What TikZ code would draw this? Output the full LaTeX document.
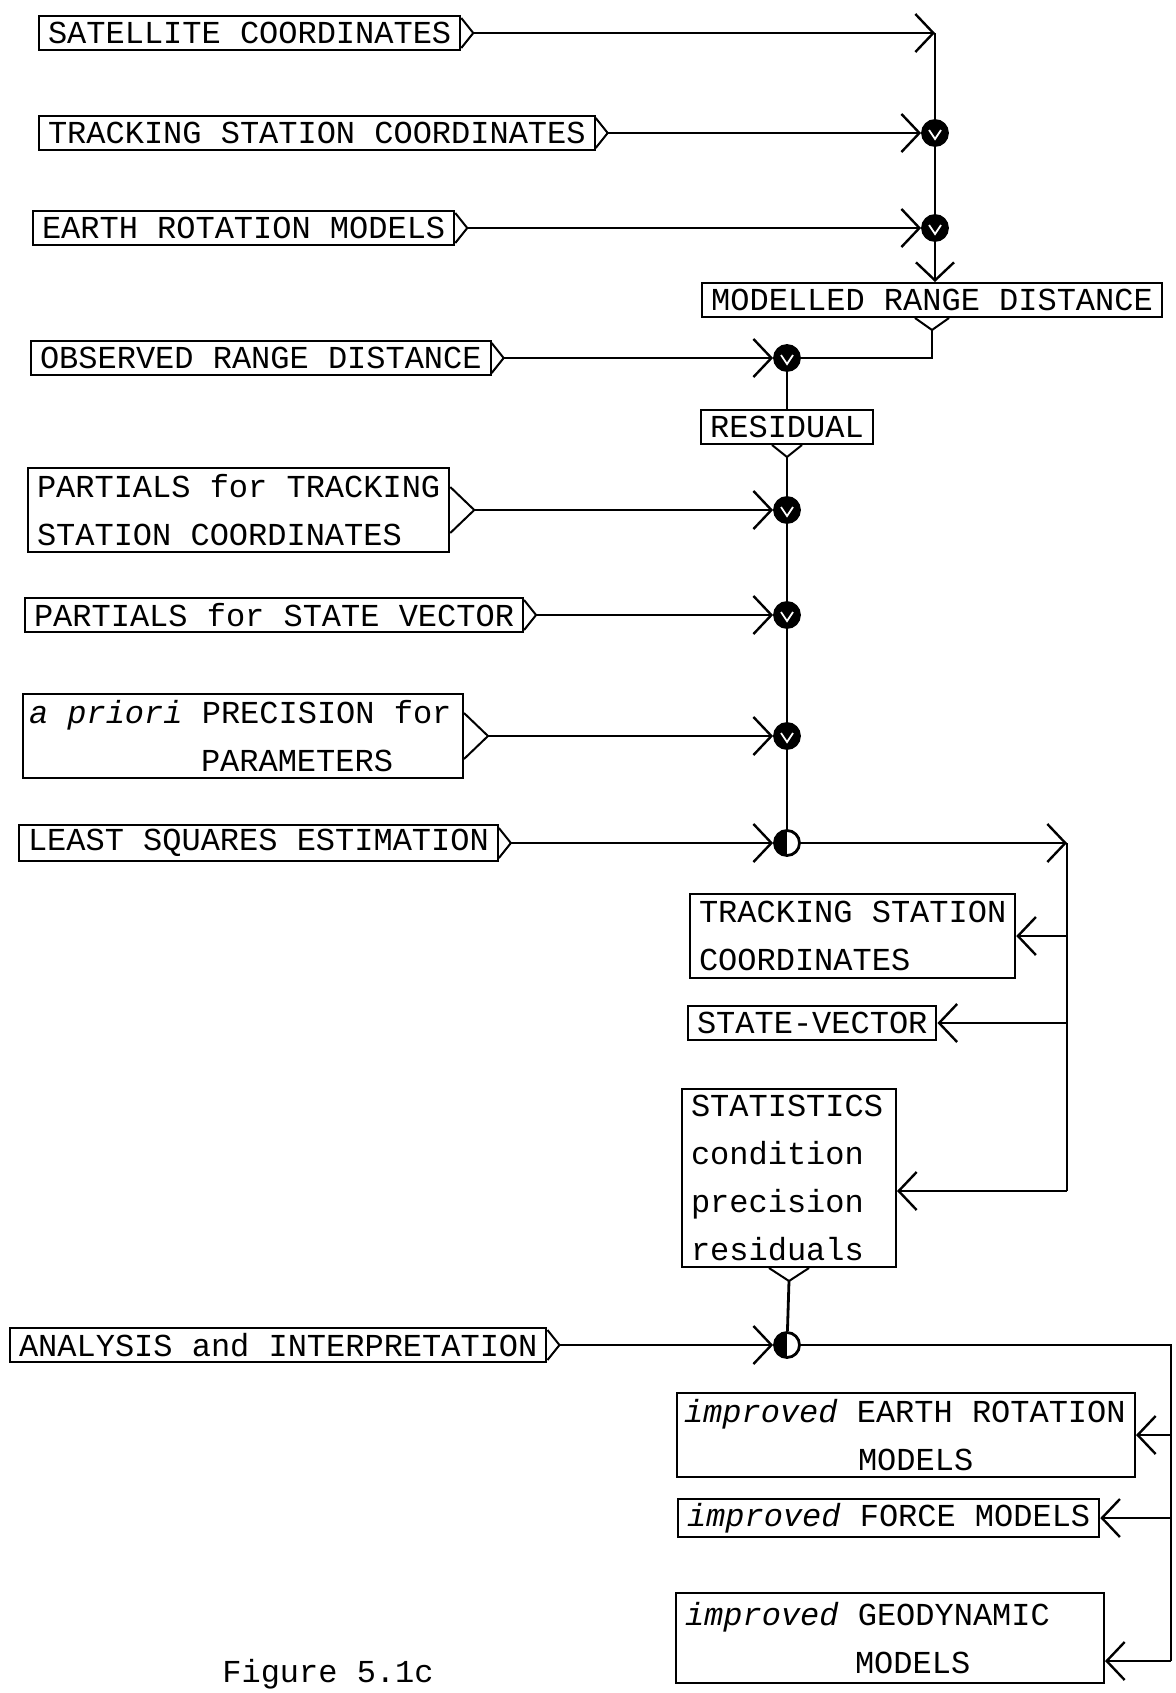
\documentclass[tikz,border=0pt]{standalone}
\usepackage{fontspec}
\setmainfont{Liberation Mono}
\usetikzlibrary{arrows.meta}

% output wedge on the right side / below a box
\newcommand{\outR}[3]{\draw[tri] ([yshift=#2]#1.east) -- ([xshift=#3]#1.east) coordinate (#1-o) -- ([yshift=-#2]#1.east);}
\newcommand{\outD}[3]{\draw[tri] ([xshift=-#2]#1.south) -- ([yshift=-#3]#1.south) coordinate (#1-o) -- ([xshift=#2]#1.south);}

\begin{document}
\begin{tikzpicture}[
  x=0.5pt, y=-0.5pt,
  font=\fontsize{16}{24}\selectfont,
  bx/.style={draw, line width=1pt, align=left, inner xsep=4.5pt, inner ysep=2pt,
             minimum height=17pt, anchor=west,
             execute at begin node={\spaceskip=0.6em\relax}},
  bxx/.style={bx, minimum height=42pt},
  tri/.style={line width=1pt},
  ln/.style={line width=1.4pt},
  arr/.style={ln, -{Straight Barb[length=9pt, width=19pt, line width=1.2pt]}},
  jn/.style={circle, draw, line width=1.4pt, fill=black, minimum size=12.5pt, inner sep=0pt},
  jh/.style={circle, draw, line width=1.4pt, minimum size=12.5pt, inner sep=0pt,
             path picture={\fill (path picture bounding box.north) rectangle (path picture bounding box.south west);}},
]
\useasboundingbox (0,0) rectangle (1175,1693);
% ---- input boxes (left column) ----
\node[bx]  (sat) at (38,33)   {SATELLITE COORDINATES};
\node[bx]  (tsc) at (38,133)  {TRACKING STATION COORDINATES};
\node[bx]  (erm) at (32,228)  {EARTH ROTATION MODELS};
\node[bx]  (ord) at (30,358)  {OBSERVED RANGE DISTANCE};
\node[bxx] (ptc) at (27,510)  {PARTIALS for TRACKING\\STATION COORDINATES};
\node[bx]  (psv) at (24,615)  {PARTIALS for STATE VECTOR};
\node[bxx, text width=214pt, inner xsep=3pt] (apr) at (22,736)
  {\textit{a priori} PRECISION for\\\hspace*{86pt}PARAMETERS};
\node[bx]  (lsq) at (18,843)  {LEAST SQUARES ESTIMATION};
\node[bx]  (ana) at (9,1345)  {ANALYSIS and INTERPRETATION};
% ---- intermediate boxes ----
\node[bx, anchor=center] (mrd) at (932,300) {MODELLED RANGE DISTANCE};
\node[bx, anchor=center] (res) at (787,427) {RESIDUAL};
% ---- output boxes (right column) ----
\node[bxx] (tsc2) at (689,936) {TRACKING STATION\\COORDINATES};
\node[bx]  (sv) at (687,1023)  {STATE-VECTOR};
\node[bx, anchor=center, text width=98pt, minimum height=89pt] (stat) at (789,1178)
  {STATISTICS\\condition\\precision\\residuals};
\node[bxx, text width=222pt, inner xsep=3.5pt] (ier) at (676,1435)
  {\textit{improved} EARTH ROTATION\\\hspace*{87pt}MODELS};
\node[bx]  (ifm) at (677,1518) {\textit{improved} FORCE MODELS};
\node[bxx, text width=205pt, minimum height=45pt] (igm) at (675,1638)
  {\textit{improved} GEODYNAMIC\\\hspace*{85pt}MODELS};
\node (cap) at (328,1674) {Figure 5.1c};
% ---- output wedges ----
\outR{sat}{7.5pt}{6pt}
\outR{tsc}{7.5pt}{6pt}
\outR{erm}{7.5pt}{6pt}
\outR{ord}{7.5pt}{6pt}
\outR{ptc}{11.5pt}{12pt}
\outR{psv}{7.5pt}{6pt}
\outR{apr}{11.5pt}{12pt}
\outR{lsq}{7.5pt}{6pt}
\outR{ana}{7.5pt}{6pt}
\outD{mrd}{8.5pt}{6pt}
\outD{res}{7.5pt}{6pt}
\outD{stat}{10pt}{6.5pt}
% ---- junctions ----
\node[jn] (j1) at (935,133) {};
\node[jn] (j2) at (935,228) {};
\node[jn] (j3) at (787,358) {};
\node[jn] (j4) at (787,510) {};
\node[jn] (j5) at (787,615) {};
\node[jn] (j6) at (787,736) {};
\node[jh] (j7) at (787,843) {};
\node[jh] (j8) at (787,1345) {};
\foreach \j in {j1,j2,j3,j4,j5,j6}
  \draw[white, line width=0.9pt] ([shift={(-3pt,1.5pt)}]\j.center) -- ([yshift=-3pt]\j.center) -- ([shift={(3pt,1.5pt)}]\j.center);
\coordinate (c1) at (935,33);
\coordinate (c2) at (1067,843);
\coordinate (c3) at (1067,1191);
\coordinate (c4) at (1171,1345);
\coordinate (c5) at (1171,1661);
% ---- modelled range distance ----
\draw[arr] (sat-o) -- (c1);
\draw[ln] (c1) -- (j1);
\draw[arr] (tsc-o) -- (j1);
\draw[ln] (j1) -- (j2);
\draw[arr] (erm-o) -- (j2);
\draw[arr] (j2) -- (j2 |- mrd.north);
% ---- residual and normal equations ----
\draw[ln] (mrd-o) |- (j3);
\draw[arr] (ord-o) -- (j3);
\draw[ln] (j3) -- (res);
\draw[ln] (res-o) -- (j4);
\draw[arr] (ptc-o) -- (j4);
\draw[ln] (j4) -- (j5);
\draw[arr] (psv-o) -- (j5);
\draw[ln] (j5) -- (j6);
\draw[arr] (apr-o) -- (j6);
\draw[ln] (j6) -- (j7);
\draw[arr] (lsq-o) -- (j7);
% ---- estimation results ----
\draw[arr] (j7) -- (c2);
\draw[ln] (c2) -- (c3);
\draw[arr] (c2 |- tsc2) -- (tsc2);
\draw[arr] (c2 |- sv) -- (sv);
\draw[arr] (c3) -- (c3 -| stat.east);
% ---- analysis ----
\draw[ln] (stat-o) -- (j8);
\draw[arr] (ana-o) -- (j8);
\draw[ln] (j8) -- (c4) -- (c5);
\draw[arr] (c4 |- ier) -- (ier);
\draw[arr] (c4 |- ifm) -- (ifm);
\draw[arr] (c5) -- (c5 -| igm.east);
\end{tikzpicture}
\end{document}
